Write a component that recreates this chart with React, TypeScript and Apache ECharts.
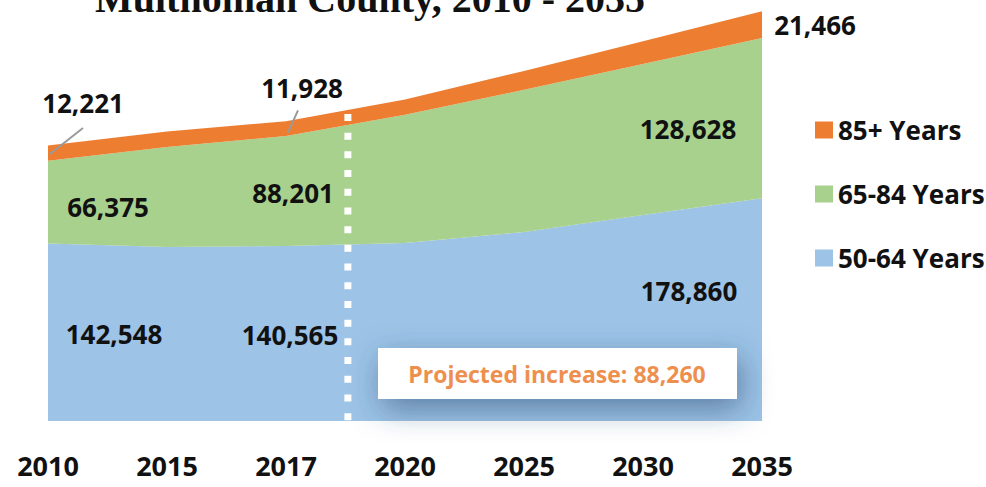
import React, { useEffect, useRef } from 'react';
import * as echarts from 'echarts';

// ---- data ----
const years = ['2010', '2015', '2017', '2020', '2025', '2030', '2035'];
const age5064 = [142548, 139800, 140565, 143000, 151800, 165500, 178860];
const age6584 = [66375, 80200, 88201, 102800, 114100, 121200, 128628];
const age85 = [12221, 12500, 11928, 12300, 15200, 18300, 21466];
const seriesNames = ['50-64 Years', '65-84 Years', '85+ Years'];
const legendOrder = ['85+ Years', '65-84 Years', '50-64 Years'];
const titleText = 'Multnomah County, 2010 - 2035';
const projectionStart = 2.52; // position (category index) of the projection divider
const baseIndex = 2; // 2017, last observed year
const endIndex = 6; // 2035

// ---- styles ----
const colors = ['#9DC3E6', '#A9D18E', '#ED7D31'];
const FONT = "'Open Sans', 'Noto Sans', sans-serif";
const labelOffsets: Record<number, [number, number]>[] = [
  { 0: [66, 91], 2: [4, 89], 6: [-73, 93] },
  { 0: [60, 46], 2: [7, 57], 6: [-74, 91] },
  { 0: [35, -43], 2: [16, -33], 6: [53, 14] },
];

const fmt = (v: number) => v.toLocaleString('en-US');

export default function App() {
  const ref = useRef<HTMLDivElement>(null);

  useEffect(() => {
    if (!ref.current) return;
    const chart = echarts.init(ref.current, null, { renderer: 'svg' });
    const raw = [age5064, age6584, age85];
    const totals = years.map((_, i) => age5064[i] + age6584[i] + age85[i]);
    const increase = totals[endIndex] - totals[baseIndex];

    const series: any[] = raw.map((vals, s) => ({
      name: seriesNames[s],
      type: 'line',
      stack: 'total',
      silent: true,
      symbol: 'circle',
      symbolSize: 0.1,
      showSymbol: true,
      showAllSymbol: true,
      lineStyle: { opacity: 0, width: 0 },
      itemStyle: { color: colors[s] },
      areaStyle:
        s === 0
          ? {
              color: colors[s],
              opacity: 1,
              shadowBlur: 14,
              shadowColor: 'rgba(0,0,0,0.3)',
              shadowOffsetX: 5,
              shadowOffsetY: 6,
            }
          : { color: colors[s], opacity: 1 },
      emphasis: { disabled: true },
      label: {
        show: false,
        position: 'inside',
        formatter: (p: any) => fmt(p.value),
        fontFamily: FONT,
        fontSize: 26,
        fontWeight: 'bold',
        color: '#111',
      },
      data: vals.map((v, i) => {
        const item: any = { value: v };
        const off = labelOffsets[s][i];
        if (off) item.label = { show: true, offset: off };
        return item;
      }),
    }));

    chart.setOption({
      animation: false,
      backgroundColor: '#ffffff',
      grid: { left: 48, right: 224, top: 10, bottom: 66 },
      xAxis: {
        type: 'category',
        data: years,
        boundaryGap: false,
        axisLine: { show: false },
        axisTick: { show: false },
        splitLine: { show: false },
        axisLabel: {
          fontFamily: FONT,
          fontWeight: 'bold',
          fontSize: 27,
          color: '#111',
          margin: 31,
          interval: 0,
        },
      },
      yAxis: { type: 'value', min: 0, max: 330000, show: false },
      legend: {
        data: legendOrder,
        orient: 'vertical',
        left: 810,
        top: 110,
        icon: 'rect',
        itemWidth: 18,
        itemHeight: 17,
        itemGap: 34,
        selectedMode: false,
        textStyle: {
          fontFamily: FONT,
          fontSize: 26,
          fontWeight: 'bold',
          color: '#111',
          lineHeight: 30,
        },
      },
      series,
    });

    const px = (i: number, y: number) => chart.convertToPixel({ gridIndex: 0 }, [i, y]) as number[];
    const a0 = px(0, age5064[0] + age6584[0] + age85[0] * 0.45);
    const a2 = px(baseIndex, age5064[baseIndex] + age6584[baseIndex] + age85[baseIndex] * 0.25);

    // projection divider, interpolated between the two neighbouring categories
    const i0 = Math.floor(projectionStart);
    const f = projectionStart - i0;
    const pA = px(i0, totals[i0]);
    const pB = px(i0 + 1, totals[i0 + 1]);
    const base = px(i0, 0);
    const dx = pA[0] + (pB[0] - pA[0]) * f;
    const dTop = pA[1] + (pB[1] - pA[1]) * f + 4;

    chart.setOption({
      graphic: [
        {
          type: 'text',
          left: 95,
          top: -22,
          style: {
            text: titleText,
            font: "bold 40px 'Liberation Serif', 'Times New Roman', serif",
            fill: '#111',
          },
        },
        {
          type: 'line',
          z: 40,
          shape: { x1: dx, y1: dTop, x2: dx, y2: base[1] },
          style: { stroke: '#ffffff', lineWidth: 7, lineDash: [7, 11.7], lineCap: 'butt' },
        },
        {
          type: 'line',
          z: 50,
          shape: { x1: a0[0] + 2, y1: a0[1], x2: a0[0] + 35, y2: a0[1] - 26 },
          style: { stroke: '#9a9a9a', lineWidth: 2 },
        },
        {
          type: 'line',
          z: 50,
          shape: { x1: a2[0] + 2, y1: a2[1], x2: a2[0] + 12, y2: a2[1] - 22 },
          style: { stroke: '#9a9a9a', lineWidth: 2 },
        },
        {
          type: 'rect',
          z: 60,
          shape: { x: 378, y: 348, width: 359, height: 51 },
          style: {
            fill: '#ffffff',
            shadowBlur: 30,
            shadowColor: 'rgba(40,70,110,0.55)',
            shadowOffsetX: 4,
            shadowOffsetY: 10,
          },
        },
        {
          type: 'text',
          z: 61,
          x: 557,
          y: 374,
          style: {
            text: 'Projected increase: ' + fmt(increase),
            font: `bold 23px ${FONT}`,
            fill: '#EE8F4E',
            align: 'center',
            verticalAlign: 'middle',
          },
        },
      ],
    });

    return () => chart.dispose();
  }, []);

  return (
    <div
      ref={ref}
      style={{ position: 'fixed', left: 0, top: 0, width: 986, height: 487 }}
    />
  );
}
